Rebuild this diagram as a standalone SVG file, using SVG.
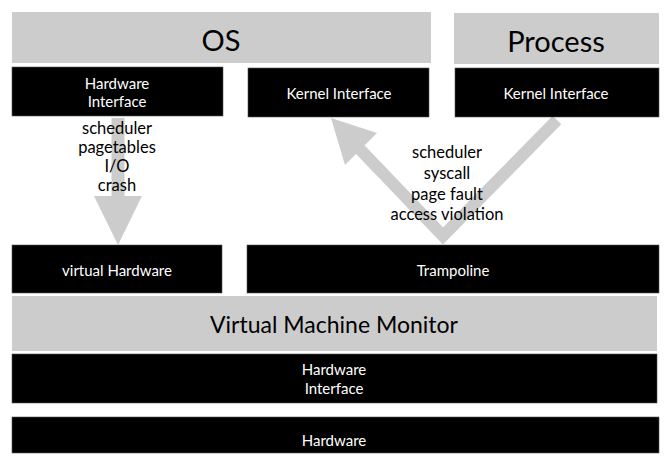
<svg xmlns="http://www.w3.org/2000/svg" width="664" height="457" viewBox="0 0 664 457">
  <style>
    .layer { fill: #cccccc; }
    .block { fill: #000000; stroke: #555555; stroke-width: 0.6; }
    text { font-family: Lato, "Open Sans", "Liberation Sans", sans-serif; text-anchor: middle; dominant-baseline: central; }
    .big { font-size: 29px; fill: #000000; }
    .mid { font-size: 23px; fill: #000000; }
    .small { font-size: 15px; fill: #ffffff; }
    .note { font-size: 16.5px; fill: #000000; }
    .flow { fill: #cccccc; }
  </style>

  <rect width="664" height="457" fill="#ffffff"/>

  <!-- connectors: drawn first so the labels sit on top -->
  <g id="connectors">
    <!-- Hardware Interface -> virtual Hardware -->
    <polygon class="flow" points="111.5,118 124.5,118 124.5,196 142,196 118,245 94,196 111.5,196"/>
    <!-- Process kernel interface -> Trampoline -> OS kernel interface -->
    <path d="M 557,120 L 443,236 L 352,141" fill="none" stroke="#cccccc" stroke-width="12" stroke-linejoin="miter"/>
    <polygon class="flow" points="331,118 377,133 345,165"/>
  </g>

  <g id="os">
    <rect class="layer" x="12" y="12" width="419" height="51"/>
    <text class="big" x="221" y="39">OS</text>
  </g>
  <g id="process">
    <rect class="layer" x="454" y="13" width="205" height="51"/>
    <text class="big" x="556" y="40">Process</text>
  </g>

  <g id="os-hardware-interface">
    <rect class="block" x="12" y="67" width="211" height="49"/>
    <text class="small" x="117" y="83">Hardware</text>
    <text class="small" x="117" y="101">Interface</text>
  </g>
  <g id="os-kernel-interface">
    <rect class="block" x="248" y="68" width="181" height="49"/>
    <text class="small" x="339" y="93">Kernel Interface</text>
  </g>
  <g id="process-kernel-interface">
    <rect class="block" x="455" y="68" width="204" height="49"/>
    <text class="small" x="556" y="93">Kernel Interface</text>
  </g>

  <g id="hw-events">
    <text class="note" x="117" y="128">scheduler</text>
    <text class="note" x="117" y="147">pagetables</text>
    <text class="note" x="117" y="166">I/O</text>
    <text class="note" x="117" y="185">crash</text>
  </g>
  <g id="trap-events">
    <text class="note" x="447" y="152">scheduler</text>
    <text class="note" x="447" y="173">syscall</text>
    <text class="note" x="447" y="194">page fault</text>
    <text class="note" x="447" y="214">access violation</text>
  </g>

  <g id="virtual-hardware">
    <rect class="block" x="12" y="245" width="210" height="48"/>
    <text class="small" x="117" y="270">virtual Hardware</text>
  </g>
  <g id="trampoline">
    <rect class="block" x="247" y="245" width="412" height="48"/>
    <text class="small" x="453" y="270">Trampoline</text>
  </g>

  <g id="vmm">
    <rect class="layer" x="12" y="296" width="645" height="55"/>
    <text class="mid" x="334" y="324">Virtual Machine Monitor</text>
  </g>
  <g id="vmm-hardware-interface">
    <rect class="block" x="12" y="354" width="645" height="49"/>
    <text class="small" x="334" y="369">Hardware</text>
    <text class="small" x="334" y="388">Interface</text>
  </g>
  <g id="hardware">
    <rect class="block" x="12" y="417" width="647" height="36"/>
    <text class="small" x="334" y="440">Hardware</text>
  </g>
</svg>
